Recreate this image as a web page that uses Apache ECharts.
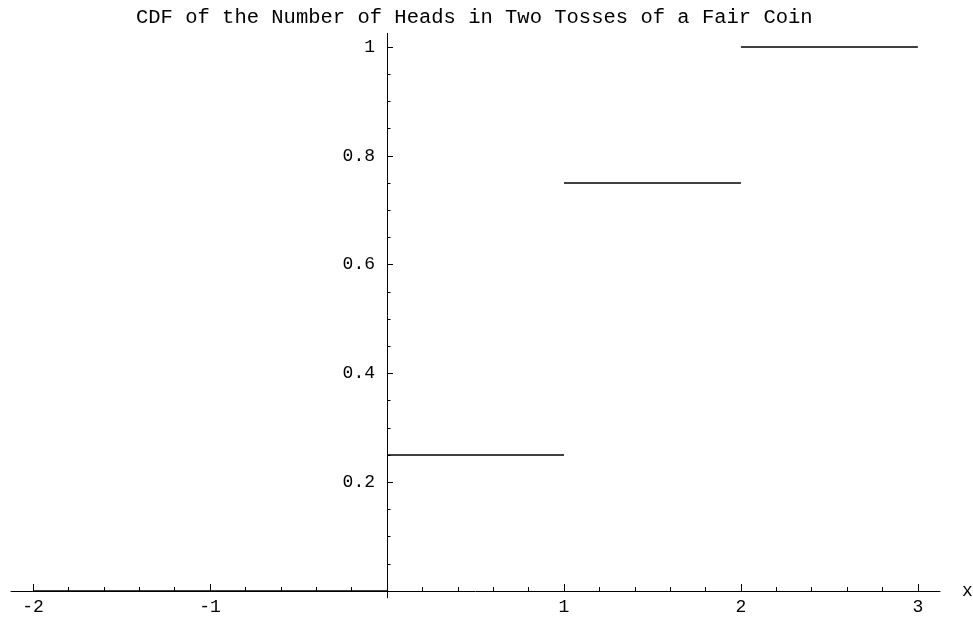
<!DOCTYPE html>
<html><head><meta charset="utf-8">
<script src="https://cdn.jsdelivr.net/npm/echarts@6/dist/echarts.min.js"></script>
<style>html,body{margin:0;padding:0;background:#fff}#c{width:973px;height:618px}</style>
</head><body><div id="c"></div>
<script>
const titleText = 'CDF of the Number of Heads in Two Tosses of a Fair Coin';
const segStarts = [-2, 0, 1, 2];
const segEnds = [0, 1, 2, 3];
const cdfValues = [0, 0.25, 0.75, 1];
const xMajorTicks = [-2, -1, 1, 2, 3];
const xTickLabels = ['-2', '-1', '1', '2', '3'];
const xMinorTicks = [-1.8, -1.6, -1.4, -1.2, -0.8, -0.6, -0.4, -0.2, 0.2, 0.4, 0.6, 0.8, 1.2, 1.4, 1.6, 1.8, 2.2, 2.4, 2.6, 2.8];
const yMajorTicks = [0.2, 0.4, 0.6, 0.8, 1];
const yTickLabels = ['0.2', '0.4', '0.6', '0.8', '1'];
const yMinorTicks = [0.05, 0.1, 0.15, 0.25, 0.3, 0.35, 0.45, 0.5, 0.55, 0.65, 0.7, 0.75, 0.85, 0.9, 0.95];

const FONT = 'Liberation Mono';
const X_MIN = -2.125, X_MAX = 3.125, Y_MIN = -0.0125, Y_MAX = 1.025;

function lookup(ticks, labels, v) {
  for (let i = 0; i < ticks.length; i++) if (Math.abs(ticks[i] - v) < 1e-9) return labels[i];
  return '';
}

const gridBox = { left: 11, width: 929, top: 33.4, height: 564.4, containLabel: false, outerBoundsMode: 'none' };
// axes cross at the origin: shift them from the grid edges to x=0 / y=0
const yAxisOffset = -gridBox.width * (0 - X_MIN) / (X_MAX - X_MIN);
const xAxisOffset = -gridBox.height * (0 - Y_MIN) / (Y_MAX - Y_MIN);

const chart = echarts.init(document.getElementById('c'), null, { renderer: 'canvas' });
const series = segStarts.map((s, i) => ({
  type: 'line',
  xAxisIndex: 0, yAxisIndex: 0,
  data: [[s, cdfValues[i]], [segEnds[i], cdfValues[i]]],
  symbol: 'none',
  lineStyle: { color: '#000', width: 1.7 },
  silent: true,
  z: 3
}));

chart.setOption({
  animation: false,
  backgroundColor: '#fff',
  title: {
    text: titleText,
    left: 136, top: 7,
    padding: 0,
    textStyle: { fontFamily: FONT, fontSize: 20.5, fontWeight: 'normal', color: '#000' }
  },
  grid: [
    Object.assign({}, gridBox),
    Object.assign({}, gridBox)
  ],
  xAxis: [
    {
      type: 'value', gridIndex: 0, min: X_MIN, max: X_MAX, position: 'bottom', offset: xAxisOffset,
      name: 'x', nameLocation: 'end', nameGap: 22,
      nameTextStyle: { fontFamily: FONT, fontSize: 18, color: '#000', verticalAlign: 'middle' },
      axisLine: { show: true, onZero: false, lineStyle: { color: '#000', width: 1 } },
      axisTick: { show: true, inside: true, length: 7, customValues: xMajorTicks, lineStyle: { color: '#000', width: 1 } },
      axisLabel: { show: true, customValues: xMajorTicks, margin: 7, fontFamily: FONT, fontSize: 18, color: '#000',
        formatter: v => lookup(xMajorTicks, xTickLabels, v) },
      splitLine: { show: false }
    },
    {
      type: 'value', gridIndex: 1, min: X_MIN, max: X_MAX, position: 'bottom', offset: xAxisOffset,
      axisLine: { show: false, onZero: false },
      axisTick: { show: true, inside: true, length: 4, customValues: xMinorTicks, lineStyle: { color: '#000', width: 1 } },
      axisLabel: { show: false },
      splitLine: { show: false }
    }
  ],
  yAxis: [
    {
      type: 'value', gridIndex: 0, min: Y_MIN, max: Y_MAX, position: 'left', offset: yAxisOffset,
      axisLine: { show: true, onZero: false, lineStyle: { color: '#000', width: 1 } },
      axisTick: { show: true, inside: true, length: 6, customValues: yMajorTicks, lineStyle: { color: '#000', width: 1 } },
      axisLabel: { show: true, customValues: yMajorTicks, margin: 12, fontFamily: FONT, fontSize: 18, color: '#000',
        formatter: v => lookup(yMajorTicks, yTickLabels, v) },
      splitLine: { show: false }
    },
    {
      type: 'value', gridIndex: 1, min: Y_MIN, max: Y_MAX, position: 'left', offset: yAxisOffset,
      axisLine: { show: false, onZero: false },
      axisTick: { show: true, inside: true, length: 3.5, customValues: yMinorTicks, lineStyle: { color: '#000', width: 1 } },
      axisLabel: { show: false },
      splitLine: { show: false }
    }
  ],
  series: series
});
</script>
</body></html>
